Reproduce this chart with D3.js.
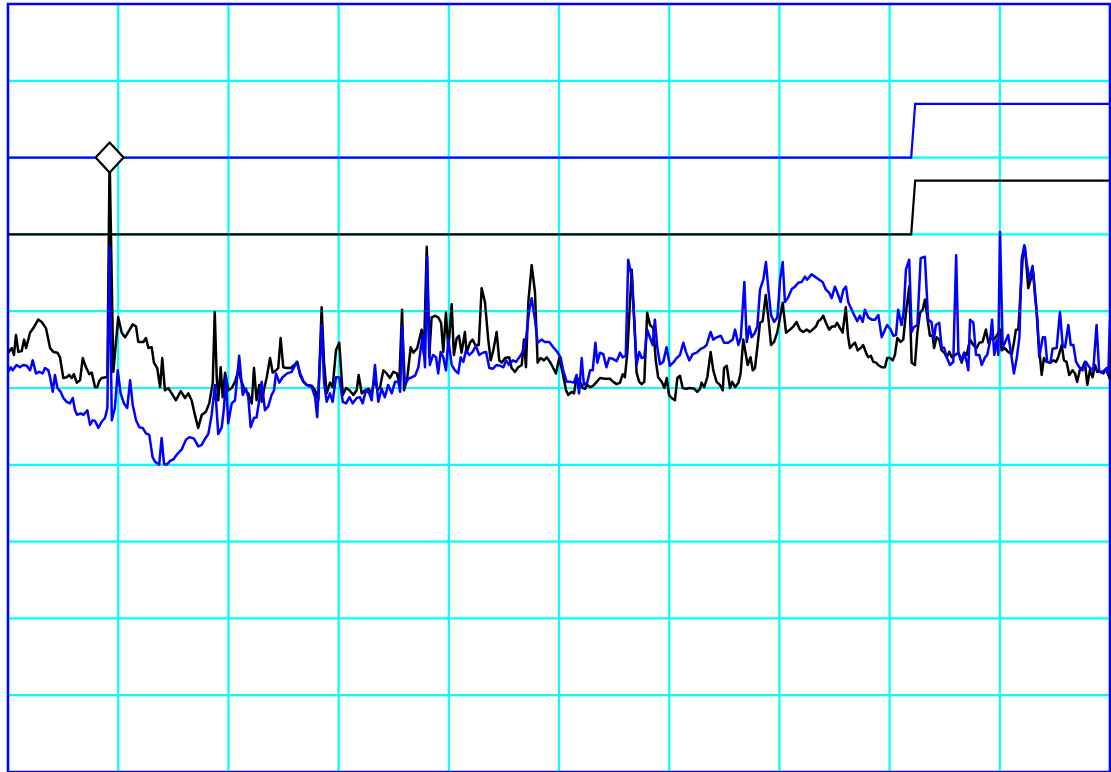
<!DOCTYPE html>
<html>
<head>
<meta charset="utf-8">
<script src="https://cdn.jsdelivr.net/npm/d3@7"></script>
<style>
    body { margin: 0; background: #fff; }
    svg { display: block; }
</style>
</head>
<body>
<div id="trace_chart"></div>
<script>
// sample index (0..500) and level (0..100)
const black_trace = [
    [0.1,54.6],[1.7,55.2],[2.7,54.3],[3.6,56.9],[4.7,54.7],[6.2,54.8],[7.3,56.3],[8.2,55.2],[10.0,57.2],[11.5,57.8],
    [13.7,58.9],[15.3,58.6],[17.2,57.8],[19.1,55.2],[20.6,54.7],[22.4,54.6],[23.6,54.0],[25.1,51.3],[26.6,51.4],[27.8,51.7],
    [28.9,51.3],[29.9,51.8],[31.2,50.7],[32.7,51.0],[33.9,53.9],[35.4,52.7],[36.9,51.8],[38.0,52.0],[39.5,50.1],[40.5,50.1],
    [41.4,50.9],[42.5,51.3],[44.5,51.4],[45.1,51.5],[46.1,80.0],[47.8,52.1],[50.0,59.2],[51.6,57.2],[53.1,56.6],[54.6,57.3],
    [56.6,58.3],[58.1,58.0],[59.1,56.0],[61.4,56.0],[62.6,56.5],[63.7,55.2],[65.2,55.3],[66.2,53.3],[67.7,52.6],[69.0,50.1],
    [70.0,53.9],[71.2,49.7],[72.7,50.0],[74.3,49.3],[76.2,48.4],[78.4,49.6],[80.3,48.7],[81.8,49.3],[83.3,48.4],[84.8,46.5],
    [86.3,44.8],[87.9,46.5],[89.8,46.9],[91.3,48.0],[92.9,50.7],[93.8,59.9],[94.7,51.4],[95.4,48.4],[96.5,52.7],[97.4,48.8],
    [98.5,52.0],[100.0,49.7],[101.5,50.0],[103.0,50.8],[104.5,52.3],[106.0,50.8],[107.5,49.7],[109.0,49.3],[110.6,48.0],[111.6,52.6],
    [112.8,48.4],[114.0,50.4],[115.1,48.2],[116.1,49.7],[117.4,51.4],[118.9,53.9],[120.1,52.0],[121.6,52.3],[122.6,52.6],[123.7,56.5],
    [124.9,52.7],[126.4,52.6],[128.3,52.6],[129.9,53.0],[131.3,53.4],[132.5,51.7],[134.0,50.8],[135.5,50.4],[137.8,50.3],[139.3,49.7],
    [140.8,48.4],[142.3,60.5],[143.4,53.3],[144.6,49.3],[146.1,50.7],[147.3,50.1],[148.8,54.9],[150.3,55.9],[151.9,49.1],[153.4,50.0],
    [154.9,49.7],[156.7,49.1],[158.2,49.7],[159.1,51.7],[160.5,49.3],[162.0,49.7],[163.5,49.9],[165.0,49.3],[166.5,51.3],[167.6,49.7],
    [168.8,50.1],[170.3,52.3],[171.8,51.9],[173.3,51.3],[174.8,52.1],[176.4,51.9],[177.5,50.7],[178.8,60.2],[179.7,49.7],[181.2,51.4],
    [182.7,55.3],[183.9,54.6],[185.7,55.2],[186.6,56.3],[187.7,57.6],[188.7,54.3],[190.0,68.4],[191.1,54.0],[192.2,59.2],[193.7,59.4],
    [195.2,59.2],[196.5,58.5],[197.5,54.7],[198.7,59.8],[199.8,55.0],[201.3,60.9],[202.3,54.3],[203.6,56.5],[204.6,56.8],[205.8,54.6],
    [207.3,57.3],[208.1,54.6],[209.6,55.9],[210.8,56.3],[212.0,55.6],[213.6,55.6],[214.9,63.0],[216.4,61.2],[217.9,56.3],[219.0,53.6],
    [220.2,54.9],[221.7,57.3],[222.9,53.6],[224.0,53.3],[225.5,53.9],[227.4,54.0],[228.5,52.6],[230.0,52.1],[231.5,52.7],[233.1,53.0],
    [234.1,56.3],[235.0,52.7],[236.1,61.2],[237.6,66.0],[239.1,62.5],[240.3,53.3],[241.7,53.9],[243.2,53.6],[244.4,54.0],[245.9,53.4],
    [247.2,52.7],[248.6,51.9],[250.1,53.9],[251.7,51.9],[253.2,49.7],[254.2,49.1],[255.7,49.5],[256.8,49.3],[258.0,51.4],[259.5,50.8],
    [260.7,50.0],[261.8,49.9],[262.8,50.4],[264.4,50.1],[265.9,50.4],[267.1,50.8],[268.6,51.3],[270.9,51.2],[273.1,51.2],[274.6,50.8],
    [276.2,50.5],[277.7,50.7],[278.9,51.8],[279.9,51.4],[281.0,54.6],[283.0,65.4],[284.2,58.5],[285.2,52.0],[286.4,50.8],[287.5,50.5],
    [288.7,50.8],[290.0,59.8],[291.3,58.2],[292.8,57.8],[293.9,53.6],[295.0,51.4],[296.6,50.8],[297.8,50.0],[298.9,51.3],[299.9,49.1],
    [301.1,48.7],[302.6,48.4],[303.7,51.3],[304.9,51.6],[306.1,50.0],[307.6,49.9],[309.4,50.0],[311.4,49.9],[312.7,49.5],[314.0,49.9],
    [314.7,50.7],[315.9,50.1],[317.3,51.4],[318.8,54.7],[320.0,52.3],[321.5,50.8],[323.0,50.4],[324.3,49.7],[324.9,52.6],[326.1,52.9],
    [327.6,50.0],[328.6,50.8],[329.9,50.1],[331.4,50.7],[332.4,51.9],[333.6,56.3],[335.6,53.0],[336.9,54.0],[337.9,52.3],[338.9,52.6],
    [340.0,55.3],[341.2,58.5],[342.4,58.7],[343.8,62.1],[345.0,59.1],[346.2,55.6],[347.6,56.0],[349.0,57.2],[350.3,59.2],[351.5,61.1],
    [353.0,57.2],[354.8,57.6],[356.3,58.0],[357.8,58.6],[359.3,57.6],[360.8,57.3],[362.4,57.6],[363.9,57.3],[365.4,57.7],[366.6,58.0],
    [367.6,58.7],[368.7,58.9],[369.9,59.4],[371.1,58.5],[372.6,57.6],[373.8,58.0],[375.2,58.0],[376.2,58.5],[377.5,57.8],[378.7,57.2],
    [380.1,60.5],[381.2,56.6],[382.0,55.2],[383.2,55.6],[384.3,55.9],[385.5,54.9],[386.9,55.2],[388.0,55.6],[389.3,54.6],[390.3,54.0],
    [391.5,54.2],[392.6,53.4],[393.8,53.3],[394.8,53.0],[396.4,52.7],[397.9,52.7],[398.9,53.9],[400.2,53.9],[401.4,53.6],[402.4,54.3],
    [403.5,56.5],[405.0,56.0],[406.2,56.3],[407.4,59.8],[408.9,63.2],[410.0,53.3],[411.5,53.0],[412.6,57.2],[413.8,59.8],[415.0,60.2],
    [416.0,61.5],[417.1,59.2],[418.3,56.8],[419.5,56.8],[420.2,55.2],[421.3,56.6],[422.5,56.3],[423.6,54.9],[424.8,54.6],[425.9,54.0],
    [427.1,54.7],[428.2,54.0],[429.7,54.3],[431.2,54.6],[432.7,53.3],[433.9,54.6],[435.0,54.3],[436.5,56.3],[438.0,55.6],[439.5,55.2],
    [440.7,55.9],[442.2,56.0],[443.7,57.6],[444.8,55.9],[445.9,56.5],[447.1,56.3],[448.6,56.8],[450.1,57.6],[450.8,54.9],[452.3,55.2],
    [453.8,54.7],[455.4,54.4],[456.4,55.9],[457.3,57.6],[458.4,57.6],[460.4,67.1],[461.4,68.4],[462.9,63.0],[464.0,64.1],[465.2,65.0],
    [466.4,61.1],[467.5,56.3],[469.0,51.7],[470.0,53.9],[471.3,53.4],[472.8,53.3],[474.3,53.6],[475.5,53.4],[476.5,54.0],[478.1,55.6],
    [479.1,53.6],[480.3,53.4],[481.5,51.7],[483.0,52.3],[484.1,51.9],[485.1,50.8],[486.3,52.3],[487.6,52.7],[488.6,53.4],[489.7,50.4],
    [490.9,52.3],[492.1,51.4],[493.2,53.0],[494.2,52.1],[495.5,52.1],[497.0,51.9],[498.5,52.6],[499.7,51.3],[500.0,57.0]
]

const blue_trace = [
    [0.1,52.1],[1.2,52.7],[2.1,52.3],[3.9,53.0],[5.4,52.7],[6.9,53.0],[8.5,52.9],[10.0,52.3],[11.2,53.6],[12.7,51.9],
    [14.2,52.1],[15.7,51.9],[16.8,52.6],[18.3,52.3],[19.1,51.4],[20.3,49.5],[21.3,51.7],[22.4,50.0],[23.9,49.5],[25.1,48.7],
    [26.6,48.2],[28.1,48.0],[29.4,48.7],[30.4,47.1],[31.4,46.5],[33.0,46.7],[34.2,46.5],[36.0,47.1],[37.2,45.2],[38.4,45.8],
    [39.5,45.7],[41.0,44.8],[42.5,45.6],[44.0,46.1],[45.1,47.4],[46.0,68.4],[47.1,45.8],[48.5,47.4],[49.8,52.3],[51.1,49.3],
    [52.6,48.0],[54.1,47.4],[55.4,51.0],[56.6,47.8],[58.1,45.8],[59.6,44.9],[61.1,44.8],[62.6,44.1],[64.1,43.9],[65.6,41.0],
    [66.7,40.4],[67.7,40.2],[68.6,40.0],[69.7,43.5],[70.8,40.1],[72.0,40.0],[73.5,40.5],[75.0,40.7],[76.8,41.4],[78.8,42.0],
    [80.8,43.3],[82.3,43.6],[84.4,43.4],[86.3,42.4],[87.9,42.6],[89.4,43.4],[90.9,44.0],[92.4,46.5],[93.9,50.4],[95.4,44.0],
    [97.0,44.9],[98.0,47.4],[98.9,51.4],[99.9,45.4],[101.5,48.0],[103.0,48.4],[104.9,54.2],[106.5,49.1],[108.0,49.9],[109.0,48.8],
    [110.1,44.9],[111.6,46.1],[112.8,46.2],[114.0,48.4],[115.1,50.8],[116.6,47.1],[118.1,47.6],[119.6,49.1],[120.7,49.7],[121.6,51.9],
    [123.1,50.7],[124.6,51.4],[126.7,51.9],[128.7,52.1],[131.0,53.4],[132.5,52.0],[134.0,50.9],[135.5,50.4],[137.8,50.1],[139.3,48.8],
    [140.3,46.2],[142.3,58.2],[143.4,50.7],[144.6,48.2],[146.1,49.3],[147.3,48.2],[148.8,51.4],[150.3,51.4],[151.9,48.2],[153.4,48.0],
    [154.9,48.8],[156.4,48.0],[158.2,48.7],[159.7,48.8],[160.9,48.0],[162.4,49.7],[163.9,49.3],[165.0,48.4],[166.5,53.0],[168.0,48.2],
    [169.5,49.9],[171.0,48.8],[172.5,50.4],[174.1,49.3],[175.6,50.8],[177.1,50.8],[177.9,49.5],[178.9,58.0],[180.1,50.4],[181.6,51.2],
    [183.2,51.4],[184.7,51.6],[186.2,52.7],[187.3,55.2],[188.2,56.9],[189.2,52.7],[190.2,67.1],[191.4,53.0],[192.9,54.3],[194.2,54.0],
    [195.2,51.9],[196.3,54.7],[197.5,54.0],[198.7,52.3],[199.8,56.3],[201.3,53.0],[202.8,52.3],[204.3,51.9],[205.4,54.0],[206.6,53.4],
    [207.8,54.9],[209.3,54.3],[210.8,54.7],[212.3,55.5],[213.8,54.3],[215.4,54.6],[216.9,54.7],[218.4,52.6],[219.9,52.5],[221.7,53.0],
    [223.2,52.9],[224.8,52.7],[226.0,53.6],[227.4,53.0],[229.0,53.6],[230.5,53.4],[232.0,54.0],[233.5,54.7],[235.0,56.3],[236.5,60.2],
    [237.6,61.7],[239.1,58.9],[240.3,55.9],[242.1,56.3],[243.6,56.0],[245.6,56.0],[247.4,55.3],[249.2,54.7],[250.7,54.0],[251.9,52.3],
    [253.5,50.8],[255.3,50.8],[256.8,50.7],[258.0,51.7],[259.1,49.3],[260.3,53.9],[261.3,50.4],[262.8,50.7],[264.1,52.3],[265.3,52.3],
    [266.5,55.9],[267.4,53.3],[268.6,54.6],[270.1,54.4],[271.5,52.7],[272.8,53.9],[274.4,53.8],[276.2,53.5],[277.7,54.6],[278.9,54.0],
    [280.3,54.2],[281.4,66.7],[283.0,64.5],[284.2,58.5],[285.2,53.0],[286.4,54.7],[287.5,53.9],[288.7,54.0],[290.0,57.6],[291.6,56.3],
    [292.5,55.6],[293.5,58.9],[294.6,55.3],[295.8,53.1],[297.3,53.4],[298.8,55.3],[300.3,52.9],[301.8,53.3],[303.4,53.9],[304.9,54.3],
    [306.4,55.9],[307.6,54.7],[309.1,53.6],[310.7,54.4],[312.5,54.6],[314.3,55.1],[315.8,55.3],[317.0,55.6],[317.7,56.3],[318.8,57.3],
    [320.0,56.3],[321.5,56.6],[323.4,56.8],[324.9,55.9],[326.8,55.9],[328.8,56.3],[329.9,57.6],[331.4,55.6],[332.5,56.6],[334.1,63.8],
    [335.2,56.0],[336.4,58.0],[337.4,56.6],[338.9,57.2],[340.0,58.0],[341.2,62.8],[342.7,64.1],[343.9,66.4],[345.0,62.8],[346.2,59.5],
    [347.6,58.6],[349.1,59.2],[350.3,64.1],[351.5,66.4],[352.5,61.2],[354.0,61.8],[355.6,62.9],[357.1,63.2],[358.6,63.7],[360.1,63.8],
    [361.6,64.5],[362.6,64.1],[364.6,64.8],[366.1,64.5],[367.6,64.2],[369.6,63.8],[371.1,62.8],[372.6,62.4],[373.7,61.7],[375.2,63.2],
    [376.3,62.4],[377.8,61.2],[379.0,62.8],[380.2,63.2],[381.2,61.2],[382.8,60.2],[383.9,59.5],[385.3,58.7],[386.5,59.4],[387.8,58.6],
    [388.8,60.2],[390.3,59.2],[391.9,58.9],[393.4,58.9],[394.9,59.5],[396.4,56.6],[397.9,57.6],[398.9,58.2],[400.5,57.6],[401.7,56.8],
    [402.9,56.9],[403.9,60.2],[405.4,58.2],[406.4,59.9],[407.4,65.4],[408.9,66.7],[410.0,57.3],[411.0,57.9],[412.6,58.2],[414.1,66.9],
    [416.0,67.1],[417.5,58.9],[419.0,58.6],[420.1,56.3],[421.0,58.2],[422.5,58.5],[423.6,55.3],[424.8,55.2],[425.9,54.0],[427.4,53.0],
    [428.9,53.4],[430.2,67.3],[431.2,54.7],[432.4,53.6],[433.8,54.6],[435.0,53.4],[435.7,52.3],[436.5,58.9],[438.0,58.5],[439.2,54.3],
    [440.7,54.3],[441.8,53.0],[443.3,54.0],[444.3,54.3],[445.5,56.0],[446.5,58.9],[447.5,54.3],[448.6,56.3],[449.3,54.3],[450.1,70.3],
    [451.3,55.3],[452.3,55.9],[453.8,56.9],[454.9,54.9],[456.4,51.9],[457.7,53.9],[458.9,56.6],[459.9,66.7],[461.1,68.6],[462.2,66.3],
    [463.4,64.1],[464.9,65.9],[466.0,61.9],[467.0,59.2],[467.9,54.0],[469.5,56.6],[470.5,56.6],[471.5,53.4],[473.0,53.3],[473.9,55.1],
    [475.8,55.2],[477.3,59.9],[478.5,55.6],[479.6,55.3],[481.1,58.2],[482.2,55.6],[483.4,55.6],[484.6,53.4],[486.1,52.7],[487.6,52.3],
    [489.1,53.4],[490.6,52.7],[492.4,52.3],[493.9,58.2],[495.1,52.1],[496.6,52.1],[498.1,52.5],[499.2,51.7],[500.0,58.9]
]

// threshold levels (step up near sample 410)
const black_limit = [[0,70],[409.8,70],[411.6,77],[500,77]]
const blue_limit = [[0,80],[409.8,80],[411.6,87],[500,87]]

const peak_marker = [46.1, 80.0]

const grid_x = d3.range(0, 501, 50)
const grid_y = d3.range(0, 101, 10)

function draw_trace_chart() {
    const margin = {top: 4, right: 1, bottom: 0, left: 8}
    const width = 1111 - margin.left - margin.right,
        height = 772 - margin.top - margin.bottom;

    let svg = d3.select("#trace_chart")
        .append("svg")
        .attr("width", 1111)
        .attr("height", 772)
        .append("g")
        .attr("transform", "translate(" + margin.left + "," + margin.top + ")")

    const x = d3.scaleLinear().domain([0, 500]).range([0, width])
    const y = d3.scaleLinear().domain([0, 100]).range([height, 0])

    svg.append("g")
        .selectAll("line.vgrid")
        .data(grid_x)
        .enter()
        .append("line")
        .attr("x1", d => x(d)).attr("x2", d => x(d))
        .attr("y1", 0).attr("y2", height)
        .attr("stroke", "#00ffff")
        .attr("stroke-width", 2.2)

    svg.append("g")
        .selectAll("line.hgrid")
        .data(grid_y)
        .enter()
        .append("line")
        .attr("x1", 0).attr("x2", width)
        .attr("y1", d => y(d)).attr("y2", d => y(d))
        .attr("stroke", "#00ffff")
        .attr("stroke-width", 2.2)

    // frame
    svg.append("rect")
        .attr("x", 0).attr("y", 0)
        .attr("width", width).attr("height", height)
        .attr("fill", "none")
        .attr("stroke", "#0000ff")
        .attr("stroke-width", 2.5)

    const line = d3.line()
        .x(d => x(d[0]))
        .y(d => y(d[1]))

    svg.append("path")
        .datum(black_limit)
        .attr("fill", "none")
        .attr("stroke", "#000000")
        .attr("stroke-width", 2.2)
        .attr("d", line)

    svg.append("path")
        .datum(blue_limit)
        .attr("fill", "none")
        .attr("stroke", "#0000ff")
        .attr("stroke-width", 2.2)
        .attr("d", line)

    svg.append("path")
        .datum(black_trace)
        .attr("fill", "none")
        .attr("stroke", "#000000")
        .attr("stroke-width", 2.5)
        .attr("stroke-linejoin", "round")
        .attr("d", line)

    svg.append("path")
        .datum(blue_trace)
        .attr("fill", "none")
        .attr("stroke", "#0000ff")
        .attr("stroke-width", 2.5)
        .attr("stroke-linejoin", "round")
        .attr("d", line)

    svg.append("path")
        .attr("transform", "translate(" + x(peak_marker[0]) + "," + y(peak_marker[1]) + ")")
        .attr("d", "M0,-15L14,0L0,15L-14,0Z")
        .attr("fill", "#ffffff")
        .attr("stroke", "#000000")
        .attr("stroke-width", 2.2)
}

draw_trace_chart()
</script>
</body>
</html>
